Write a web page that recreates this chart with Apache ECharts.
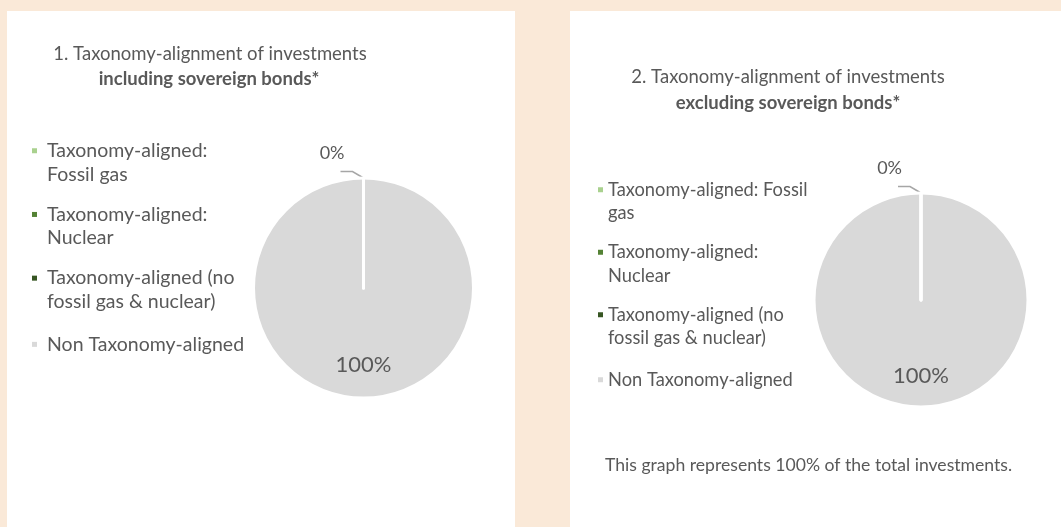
<!DOCTYPE html>
<html>
<head>
<meta charset="utf-8">
<title>Taxonomy-alignment of investments</title>
<script src="https://cdn.jsdelivr.net/npm/echarts@6/dist/echarts.min.js"></script>
<style>
  html, body { margin: 0; padding: 0; background: #fae9d8; }
  #chart { width: 1061px; height: 527px; }
</style>
</head>
<body>
<div id="chart"></div>
<script>
// Portfolio split by EU taxonomy category, in percent of investments
const categories = [
  'Taxonomy-aligned: Fossil gas',
  'Taxonomy-aligned: Nuclear',
  'Taxonomy-aligned (no fossil gas & nuclear)',
  'Non Taxonomy-aligned'
];
const includingSovereignBonds = [0, 0, 0, 100];
const excludingSovereignBonds = [0, 0, 0, 100];
const sliceColors = ['#a9d18e', '#548235', '#375623', '#d9d9d9'];
const titleLines1 = ['1. Taxonomy-alignment of investments', 'including sovereign bonds*'];
const titleLines2 = ['2. Taxonomy-alignment of investments', 'excluding sovereign bonds*'];
const footnote = 'This graph represents 100% of the total investments.';

const FONT = 'Lato, "Open Sans", sans-serif';
const TEXT = '#595959';
const LABEL_SLICE = 2;   // aligned slice carrying the outside "0%" label
const FULL_SLICE = 3;    // remaining slice, labelled inside
// the large slice is drawn first so the white edges of the empty slices stay on top
const DRAW_ORDER = [3, 0, 1, 2];

// Legend markers: square level with the first text line (wrapped items) or centred (single line)
function legendIcons(markerToText) {
  const w = 5 + markerToText;
  return {
    top: 'path://M0,0h5v5h-5Z M' + w + ',28.5L' + w + ',28.5',
    mid: 'path://M0,11.75h5v5h-5Z M0,0L0,0 M' + w + ',28.5L' + w + ',28.5',
    width: w
  };
}

function pct(p) { return Math.round(p.percent) + '%'; }

function pieData(values) {
  return DRAW_ORDER.map(function (i) {
    const item = { name: categories[i], value: values[i], itemStyle: { color: sliceColors[i] } };
    if (i === LABEL_SLICE) {
      item.label = { show: true, position: 'outside', fontSize: 18 };
      item.labelLine = { show: true };
    } else if (i === FULL_SLICE) {
      item.label = { show: true, position: 'inside', fontSize: 22 };
      item.labelLine = { show: false };
    }
    return item;
  });
}

function pieSeries(values, center, radius) {
  return {
    type: 'pie',
    center: center,
    radius: radius,
    startAngle: 90,
    clockwise: true,
    avoidLabelOverlap: false,
    animation: false,
    emphasis: { disabled: true },
    itemStyle: { borderColor: '#ffffff', borderWidth: 3 },
    label: { show: false, formatter: pct, color: TEXT, fontFamily: FONT },
    labelLine: { show: false, length: 8, length2: 12, lineStyle: { color: '#a6a6a6', width: 1.5 } },
    labelLayout: function (params) {
      const cat = DRAW_ORDER[params.dataIndex];
      if (cat === FULL_SLICE) return { dy: 19 };
      if (cat !== LABEL_SLICE || !params.labelLinePoints) return {};
      // leader line bends up-left from the rim, text sits above its end
      const p0 = params.labelLinePoints[0];
      const p1 = [p0[0] - 11, p0[1] - 6.5];
      const p2 = [p1[0] - 12, p1[1]];
      return {
        x: p2[0] + 4, y: p2[1] - 18, align: 'right', verticalAlign: 'middle',
        labelLinePoints: [p0, p1, p2]
      };
    },
    data: pieData(values)
  };
}

function legend(left, top, fontSize, gap, wrapWidth, markerToText) {
  const icons = legendIcons(markerToText);
  return {
    orient: 'vertical',
    left: left,
    top: top,
    padding: 0,
    itemWidth: icons.width,
    itemHeight: 28.5,
    itemGap: gap,
    selectedMode: false,
    itemStyle: { borderWidth: 0 },
    textStyle: {
      fontFamily: FONT, fontSize: fontSize, color: TEXT,
      lineHeight: 23.5, width: wrapWidth, overflow: 'break'
    },
    data: categories.map(function (name, i) {
      return { name: name, icon: i < 3 ? icons.top : icons.mid };
    })
  };
}

function titleLine(text, x, top, bold, size) {
  return {
    text: text,
    left: x,
    top: top,
    textAlign: 'center',
    padding: 0,
    textStyle: {
      fontFamily: FONT, fontSize: size, color: TEXT,
      fontWeight: bold ? 'bold' : 'normal', lineHeight: 26
    }
  };
}

const chart = echarts.init(document.getElementById('chart'), null, { renderer: 'canvas' });

chart.setOption({
  backgroundColor: '#fae9d8',
  animation: false,
  color: sliceColors,
  graphic: [
    { type: 'rect', silent: true, z: -10, shape: { x: 7, y: 11, width: 508, height: 516 }, style: { fill: '#ffffff' } },
    { type: 'rect', silent: true, z: -10, shape: { x: 570, y: 11, width: 491, height: 516 }, style: { fill: '#ffffff' } }
  ],
  title: [
    titleLine(titleLines1[0], 210, 41, false, 18.5),
    titleLine(titleLines1[1], 209, 66, true, 18.5),
    titleLine(titleLines2[0], 788, 64, false, 18.5),
    titleLine(titleLines2[1], 788, 90, true, 18.5),
    {
      text: footnote, left: 605, top: 452, padding: 0,
      textStyle: { fontFamily: FONT, fontSize: 17.6, color: TEXT, fontWeight: 'normal', lineHeight: 26 }
    }
  ],
  legend: [
    legend(32, 139, 19.5, 16.7, 204, 5),
    legend(598, 178, 18.3, 15.5, 208, 0)
  ],
  series: [
    pieSeries(includingSovereignBonds, [363.5, 288], 110),
    pieSeries(excludingSovereignBonds, [921, 300], 107)
  ]
});
</script>
</body>
</html>
